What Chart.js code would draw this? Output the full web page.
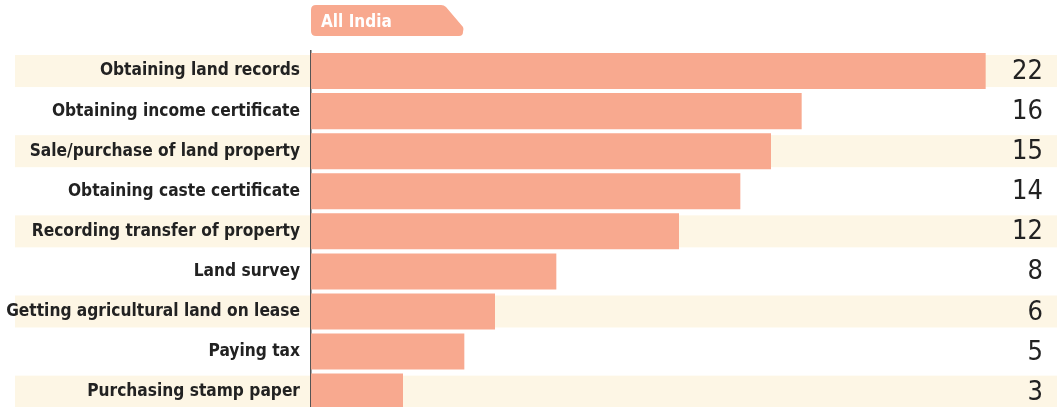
<!DOCTYPE html>
<html>
<head>
<meta charset="utf-8">
<script src="https://cdn.jsdelivr.net/npm/chart.js@4"></script>
<style>
html,body{margin:0;padding:0;background:#fff;overflow:hidden;}
#wrap{width:1057px;height:433px;position:relative;}
</style>
</head>
<body>
<div id="wrap"><canvas id="c" width="1057" height="433"></canvas></div>
<script>
const categories = [
  "Obtaining land records",
  "Obtaining income certificate",
  "Sale/purchase of land property",
  "Obtaining caste certificate",
  "Recording transfer of property",
  "Land survey",
  "Getting agricultural land on lease",
  "Paying tax",
  "Purchasing stamp paper"
];
const values = [22, 16, 15, 14, 12, 8, 6, 5, 3];
const tabLabel = "All India";

const BAR = "#F8A98F";
const STRIPE = "#FDF6E5";
const TEXT = "#222222";
const FONT = "'DejaVu Sans Condensed', 'Liberation Sans Narrow', sans-serif";

const decor = {
  id: "decor",
  beforeDraw(chart) {
    const ctx = chart.ctx;
    const y = chart.scales.y;
    ctx.save();
    ctx.fillStyle = STRIPE;
    categories.forEach((c, i) => {
      if (i % 2 === 0) {
        const cy = y.getPixelForValue(i);
        ctx.fillRect(15, cy - 16, chart.width - 15, 32);
      }
    });
    ctx.restore();
  },
  afterDraw(chart) {
    const ctx = chart.ctx;
    const y = chart.scales.y;
    const area = chart.chartArea;
    ctx.save();
    ctx.fillStyle = TEXT;
    ctx.font = "27px " + FONT;
    ctx.textAlign = "right";
    ctx.textBaseline = "middle";
    values.forEach((v, i) => {
      ctx.fillText(String(v), 1043, y.getPixelForValue(i) + 1);
    });
    // tab
    const L = area.left, T = 5, R = 463, B = 36, r = 5;
    ctx.beginPath();
    ctx.moveTo(L + r, T);
    ctx.lineTo(R - 22, T);
    ctx.quadraticCurveTo(R - 19, T, R - 17, T + 2);
    ctx.lineTo(R, B - 9);
    ctx.quadraticCurveTo(R + 1, B - 7, R, B - 4);
    ctx.quadraticCurveTo(R, B, R - 4, B);
    ctx.lineTo(L + r, B);
    ctx.quadraticCurveTo(L, B, L, B - r);
    ctx.lineTo(L, T + r);
    ctx.quadraticCurveTo(L, T, L + r, T);
    ctx.closePath();
    ctx.fillStyle = BAR;
    ctx.fill();
    ctx.fillStyle = "#ffffff";
    ctx.font = "bold 17px " + FONT;
    ctx.textAlign = "left";
    ctx.textBaseline = "alphabetic";
    ctx.fillText(tabLabel, L + 10, 27);
    ctx.restore();
  }
};

new Chart(document.getElementById("c"), {
  type: "bar",
  data: {
    labels: categories,
    datasets: [{
      data: values,
      backgroundColor: BAR,
      borderWidth: 0,
      barPercentage: 0.9,
      categoryPercentage: 1.0
    }]
  },
  options: {
    indexAxis: "y",
    responsive: false,
    animation: false,
    layout: { padding: { top: 51, bottom: 9, left: 0, right: 10 } },
    plugins: { legend: { display: false }, tooltip: { enabled: false } },
    scales: {
      x: {
        display: false,
        min: 0,
        max: 24.0,
        grid: { display: false }
      },
      y: {
        afterFit(scale) { scale.width = 311; },
        grid: { display: false, drawTicks: false },
        border: { display: true, color: "#555555", width: 1.5 },
        ticks: {
          color: TEXT,
          padding: 11,
          autoSkip: false,
          font: { family: FONT, size: 17.2, weight: "bold" }
        }
      }
    }
  },
  plugins: [decor]
});
</script>
</body>
</html>
